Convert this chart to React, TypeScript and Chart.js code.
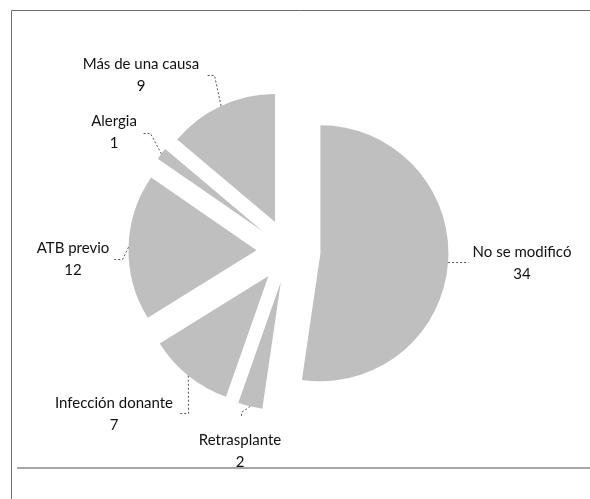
import React, { useEffect, useRef } from "react";
import { Chart, registerables } from "chart.js";

Chart.register(...registerables);

const categories = ["No se modificó", "Retrasplante", "Infección donante", "ATB previo", "Alergia", "Más de una causa"];
const values = [34, 2, 7, 12, 1, 9];

// label layout (text centre + leader elbow/end), kept apart from data
const labelLayout = [
  { x: 522, y: 252, path: [[468, 262]] },
  { x: 240, y: 440, path: [[241, 412], [241, 417]] },
  { x: 114, y: 403, path: [[188, 413], [179, 413]] },
  { x: 73, y: 248, path: [[122, 259], [113, 259]] },
  { x: 114, y: 121, path: [[150, 133], [142, 133]] },
  { x: 141, y: 64, path: [[214, 75], [207, 75]] },
];

const FONT = "15px Lato, 'Open Sans', sans-serif";
const LINE_GAP = 22;
const EXPLODE = 32;

const framePlugin = {
  id: "frame",
  beforeDraw(chart: any) {
    const ctx = chart.ctx;
    ctx.save();
    ctx.fillStyle = "#ffffff";
    ctx.fillRect(0, 0, chart.width, chart.height);
    ctx.lineWidth = 1;
    ctx.strokeStyle = "#6e6e6e";
    ctx.beginPath();
    ctx.moveTo(11.5, 10.5);
    ctx.lineTo(chart.width, 10.5);
    ctx.moveTo(11.5, 10.5);
    ctx.lineTo(11.5, chart.height);
    ctx.stroke();
    ctx.lineWidth = 2;
    ctx.strokeStyle = "#a6a6a6";
    ctx.beginPath();
    ctx.moveTo(17, 468);
    ctx.lineTo(chart.width, 468);
    ctx.stroke();
    ctx.restore();
  },
};

// explode every slice by the same distance along its mid angle
const explodePlugin = {
  id: "explode",
  afterDatasetUpdate(chart: any, args: any) {
    const meta = chart.getDatasetMeta(args.index);
    meta.data.forEach((arc: any) => {
      const h = (arc.startAngle + arc.endAngle) / 2;
      arc.x += Math.cos(h) * EXPLODE;
      arc.y += Math.sin(h) * EXPLODE;
    });
  },
};

const labelPlugin = {
  id: "pieLabels",
  afterDatasetsDraw(chart: any) {
    const ctx = chart.ctx;
    const meta = chart.getDatasetMeta(0);
    ctx.save();
    meta.data.forEach((arc: any, i: number) => {
      const h = (arc.startAngle + arc.endAngle) / 2;
      const ax = arc.x + Math.cos(h) * arc.outerRadius;
      const ay = arc.y + Math.sin(h) * arc.outerRadius;
      const lay = labelLayout[i];
      ctx.strokeStyle = "#555555";
      ctx.lineWidth = 1;
      ctx.setLineDash([2, 2]);
      ctx.beginPath();
      ctx.moveTo(ax, ay);
      lay.path.forEach((pt) => ctx.lineTo(pt[0] + 0.5, pt[1] + 0.5));
      ctx.stroke();
      ctx.setLineDash([]);
      ctx.fillStyle = "#111111";
      ctx.font = FONT;
      ctx.textAlign = "center";
      ctx.textBaseline = "middle";
      ctx.fillText(categories[i], lay.x, lay.y);
      ctx.fillText(String(values[i]), lay.x, lay.y + LINE_GAP);
    });
    ctx.restore();
  },
};

export default function App() {
  const ref = useRef<HTMLCanvasElement | null>(null);
  useEffect(() => {
    if (!ref.current) return;
    const chart = new Chart(ref.current, {
      type: "pie",
      data: {
        labels: categories,
        datasets: [
          {
            data: values,
            backgroundColor: "#bfbfbf",
            borderWidth: 0,
            offset: 0,
            hoverOffset: 0,
          } as any,
        ],
      },
      options: {
        responsive: false,
        animation: false,
        radius: 128,
        layout: { padding: { left: 0, right: 13, top: 3, bottom: 0 } },
        plugins: { legend: { display: false }, tooltip: { enabled: false } },
        events: [],
      } as any,
      plugins: [framePlugin, explodePlugin, labelPlugin],
    });
    return () => chart.destroy();
  }, []);
  return (
    <div style={{ position: "fixed", left: 0, top: 0, width: 590, height: 499, background: "#fff" }}>
      <canvas ref={ref} width={590} height={499} style={{ display: "block" }} />
    </div>
  );
}
